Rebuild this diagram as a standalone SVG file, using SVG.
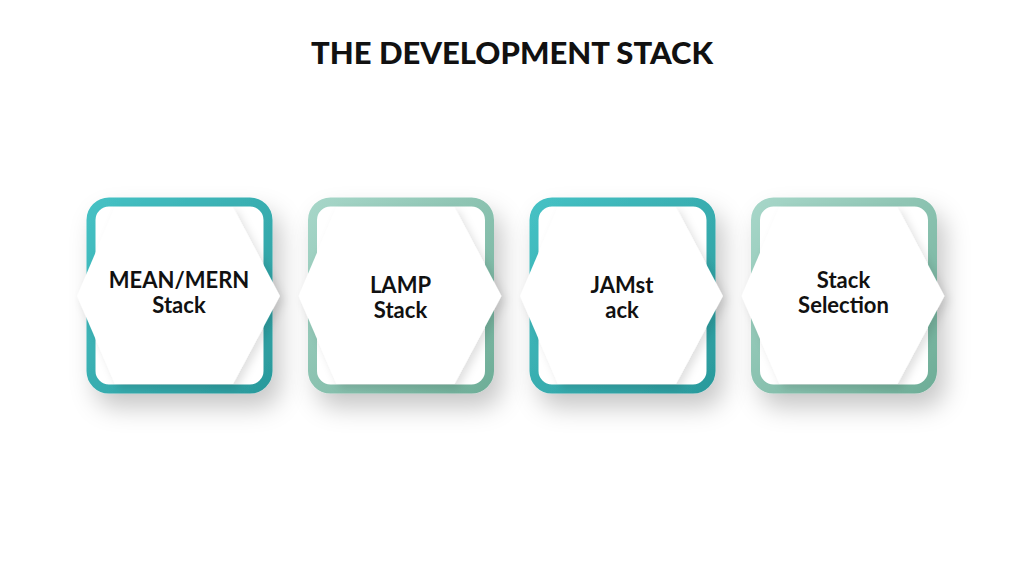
<svg xmlns="http://www.w3.org/2000/svg" width="1024" height="576" viewBox="0 0 1024 576">
<defs>
<linearGradient id="gA" x1="0" y1="0" x2="1" y2="1"><stop offset="0" stop-color="#45c1c4"/><stop offset="1" stop-color="#2b9a9c"/></linearGradient>
<linearGradient id="gB" x1="0" y1="0" x2="1" y2="1"><stop offset="0" stop-color="#a6d6c8"/><stop offset="1" stop-color="#6fae98"/></linearGradient>
<filter id="sh" x="-30%" y="-30%" width="170%" height="170%"><feDropShadow dx="8" dy="14" stdDeviation="12" flood-color="#000" flood-opacity="0.22"/></filter>
<filter id="sh2" x="-30%" y="-30%" width="170%" height="170%"><feDropShadow dx="4" dy="4" stdDeviation="4" flood-color="#000" flood-opacity="0.12"/></filter>
<linearGradient id="fold" x1="0" y1="0" x2="1" y2="0"><stop offset="0" stop-color="#f2f2f2"/><stop offset="1" stop-color="#c4c4c4"/></linearGradient>
</defs>
<style>
.box{fill:#fff;stroke-width:9}
.hex{fill:#fff}
.t{font-family:"Lato","Open Sans",sans-serif;font-weight:700;font-size:22px;fill:#111;text-anchor:middle}
.title{font-family:"Lato","Open Sans",sans-serif;font-weight:900;font-size:31px;fill:#111;text-anchor:middle}
</style>
<text class="title" x="512" y="64">THE DEVELOPMENT STACK</text>
<g id="node1" transform="translate(0,0)">
<rect class="box" x="91" y="202" width="177" height="187" rx="18" stroke="url(#gA)" filter="url(#sh)"/>
<polygon points="233,207 277,296 233,384" fill="url(#fold)"/>
<polygon class="hex" points="115,207 233,207 280,296 233,384 115,384 77,296" filter="url(#sh2)"/>
<text class="t" x="179" y="288">MEAN/MERN</text><text class="t" x="179" y="313">Stack</text>
</g>
<g id="node2" transform="translate(221.5,0)">
<rect class="box" x="91" y="202" width="177" height="187" rx="18" stroke="url(#gB)" filter="url(#sh)"/>
<polygon points="233,207 277,296 233,384" fill="url(#fold)"/>
<polygon class="hex" points="115,207 233,207 280,296 233,384 115,384 77,296" filter="url(#sh2)"/>
<text class="t" x="179" y="293">LAMP</text><text class="t" x="179" y="318">Stack</text>
</g>
<g id="node3" transform="translate(443,0)">
<rect class="box" x="91" y="202" width="177" height="187" rx="18" stroke="url(#gA)" filter="url(#sh)"/>
<polygon points="233,207 277,296 233,384" fill="url(#fold)"/>
<polygon class="hex" points="115,207 233,207 280,296 233,384 115,384 77,296" filter="url(#sh2)"/>
<text class="t" x="179" y="293">JAMst</text><text class="t" x="179" y="318">ack</text>
</g>
<g id="node4" transform="translate(664.5,0)">
<rect class="box" x="91" y="202" width="177" height="187" rx="18" stroke="url(#gB)" filter="url(#sh)"/>
<polygon points="233,207 277,296 233,384" fill="url(#fold)"/>
<polygon class="hex" points="115,207 233,207 280,296 233,384 115,384 77,296" filter="url(#sh2)"/>
<text class="t" x="179" y="288">Stack</text><text class="t" x="179" y="313">Selection</text>
</g>
<g id="connectors"/>
</svg>
